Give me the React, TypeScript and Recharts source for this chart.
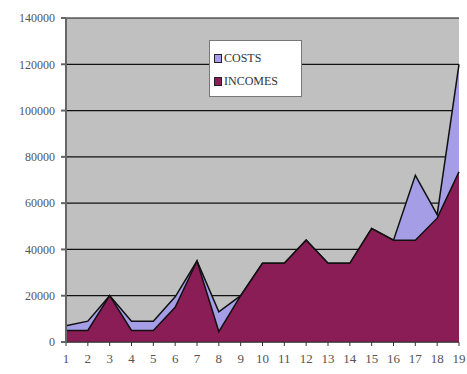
import { Area, AreaChart, CartesianGrid, Legend, XAxis, YAxis } from "recharts";

const periods = ["1", "2", "3", "4", "5", "6", "7", "8", "9", "10", "11", "12", "13", "14", "15", "16", "17", "18", "19"];
const costs = [7000, 9000, 20000, 9000, 9000, 19500, 35000, 13000, 20000, 34000, 34000, 44000, 34000, 34000, 49000, 44000, 72000, 55000, 120000];
const incomes = [5000, 5000, 20000, 5000, 5000, 15000, 35000, 4500, 20000, 34000, 34000, 44000, 34000, 34000, 49000, 44000, 44000, 53500, 73500];
const yTicks = [0, 20000, 40000, 60000, 80000, 100000, 120000, 140000];

const COSTS_COLOR = "#a59ee6";
const INCOMES_COLOR = "#8b1d56";

const data = periods.map((p, i) => ({ period: p, costs: costs[i], incomes: incomes[i] }));

const yTickFont = { fontFamily: "Liberation Serif", fontSize: 12, fill: "#555" };
const xTickFont = { fontFamily: "Liberation Serif", fontSize: 13, fill: "#555" };

function LegendBox() {
  const items = [
    { label: "COSTS", color: COSTS_COLOR },
    { label: "INCOMES", color: INCOMES_COLOR },
  ];
  return (
    <div
      style={{
        width: 93,
        height: 57,
        background: "#fff",
        border: "1px solid #777",
        boxSizing: "border-box",
        padding: "6px 0 0 4px",
        fontFamily: "Liberation Serif",
        fontSize: 12,
        color: "#333",
      }}
    >
      {items.map((it) => (
        <div key={it.label} style={{ display: "flex", alignItems: "center", height: 23 }}>
          <span
            style={{
              display: "inline-block",
              width: 6,
              height: 7,
              background: it.color,
              border: "1px solid #222",
              marginRight: 2,
            }}
          />
          {it.label}
        </div>
      ))}
    </div>
  );
}

export default function App() {
  return (
    <div style={{ position: "absolute", left: 0, top: 0, background: "#fff" }}>
      <AreaChart width={467} height={374} data={data} margin={{ top: 18, right: 8, left: 0, bottom: 0 }}>
        <CartesianGrid vertical={false} fill="#c0c0c0" stroke="#111" strokeWidth={1.2} />
        <XAxis
          dataKey="period"
          interval={0}
          tick={xTickFont}
          tickSize={4}
          tickMargin={8}
          stroke="#333"
          height={32}
          padding={{ left: 0, right: 0 }}
        />
        <YAxis
          domain={[0, 140000]}
          ticks={yTicks}
          tick={yTickFont}
          tickSize={5}
          tickMargin={6}
          stroke="#666"
          strokeWidth={2}
          width={66}
          interval={0}
        />
        <Legend
          layout="vertical"
          verticalAlign="middle"
          align="center"
          wrapperStyle={{ left: 209, top: 40, width: 93 }}
          content={() => <LegendBox />}
        />
        <Area
          type="linear"
          dataKey="costs"
          name="COSTS"
          stroke="#111"
          strokeWidth={1.5}
          fill={COSTS_COLOR}
          fillOpacity={1}
          isAnimationActive={false}
        />
        <Area
          type="linear"
          dataKey="incomes"
          name="INCOMES"
          stroke="#111"
          strokeWidth={1.5}
          fill={INCOMES_COLOR}
          fillOpacity={1}
          isAnimationActive={false}
        />
      </AreaChart>
    </div>
  );
}
